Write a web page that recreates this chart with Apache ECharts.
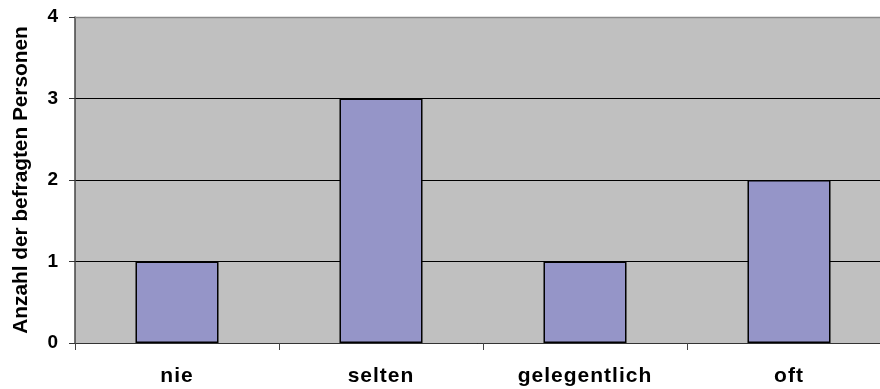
<!DOCTYPE html>
<html>
<head>
<meta charset="utf-8">
<script src="https://cdn.jsdelivr.net/npm/echarts@6/dist/echarts.min.js"></script>
<style>
  html, body { margin: 0; padding: 0; background: #fff; overflow: hidden; }
  #chart { width: 880px; height: 389px; }
</style>
</head>
<body>
<div id="chart"></div>
<script>
// Häufigkeit: Anzahl der befragten Personen je Antwort
const categories = ['nie', 'selten', 'gelegentlich', 'oft'];
const counts = [1, 3, 1, 2];
const yTicks = [0, 1, 2, 3, 4];

const FONT = 'Liberation Sans, Arial, sans-serif';
const CAT_FONT_SIZE = 21;   // category labels are drawn slightly tracked out
const CAT_TRACKING = '1px';

// Widen the letter spacing of the category labels only (matched by font size).
(function () {
  const proto = CanvasRenderingContext2D.prototype;
  const origFill = proto.fillText;
  const tag = ' ' + CAT_FONT_SIZE + 'px';
  proto.fillText = function (text, x, y, maxWidth) {
    if (this.font && this.font.indexOf(tag) !== -1 && 'letterSpacing' in this) {
      const prev = this.letterSpacing;
      this.letterSpacing = CAT_TRACKING;
      const r = maxWidth === undefined ? origFill.call(this, text, x, y) : origFill.call(this, text, x, y, maxWidth);
      this.letterSpacing = prev;
      return r;
    }
    return maxWidth === undefined ? origFill.call(this, text, x, y) : origFill.call(this, text, x, y, maxWidth);
  };
})();

const chart = echarts.init(document.getElementById('chart'), null, { renderer: 'canvas' });

chart.setOption({
  animation: false,
  grid: {
    left: 75,
    top: 17,
    width: 816,
    bottom: 46,
    outerBoundsMode: 'none',
    containLabel: false,
    show: true,
    backgroundColor: '#C0C0C0',
    borderWidth: 0
  },
  xAxis: {
    type: 'category',
    data: categories,
    axisLine: { show: true, lineStyle: { color: '#333', width: 1 } },
    axisTick: { show: true, length: 7, lineStyle: { color: '#444' } },
    axisLabel: {
      color: '#000',
      fontFamily: FONT,
      fontWeight: 'bold',
      fontSize: CAT_FONT_SIZE,
      margin: 23
    },
    splitLine: { show: false }
  },
  yAxis: {
    type: 'value',
    min: yTicks[0],
    max: yTicks[yTicks.length - 1],
    interval: 1,
    name: 'Anzahl der befragten Personen',
    nameLocation: 'middle',
    nameGap: 43,
    nameRotate: 90,
    nameTextStyle: {
      color: '#000',
      fontFamily: FONT,
      fontWeight: 'bold',
      fontSize: 20.8
    },
    axisLine: { show: true, lineStyle: { color: '#444', width: 1.5 } },
    axisTick: { show: true, length: 6, lineStyle: { color: '#333' } },
    axisLabel: {
      color: '#000',
      fontFamily: FONT,
      fontWeight: 'bold',
      fontSize: 19,
      margin: 17
    },
    splitLine: { show: true, lineStyle: { color: '#000', width: 1 } }
  },
  series: [{
    type: 'bar',
    data: counts,
    barWidth: '40.7%',
    itemStyle: {
      color: '#9595C8',
      borderColor: '#000',
      borderWidth: 1.5
    }
  }],
  graphic: [{
    type: 'line',
    shape: { x1: 75, y1: 17.5, x2: 880, y2: 17.5 },
    style: { stroke: '#8a8a8a', lineWidth: 1.5 },
    z: 10
  }]
});
</script>
</body>
</html>
